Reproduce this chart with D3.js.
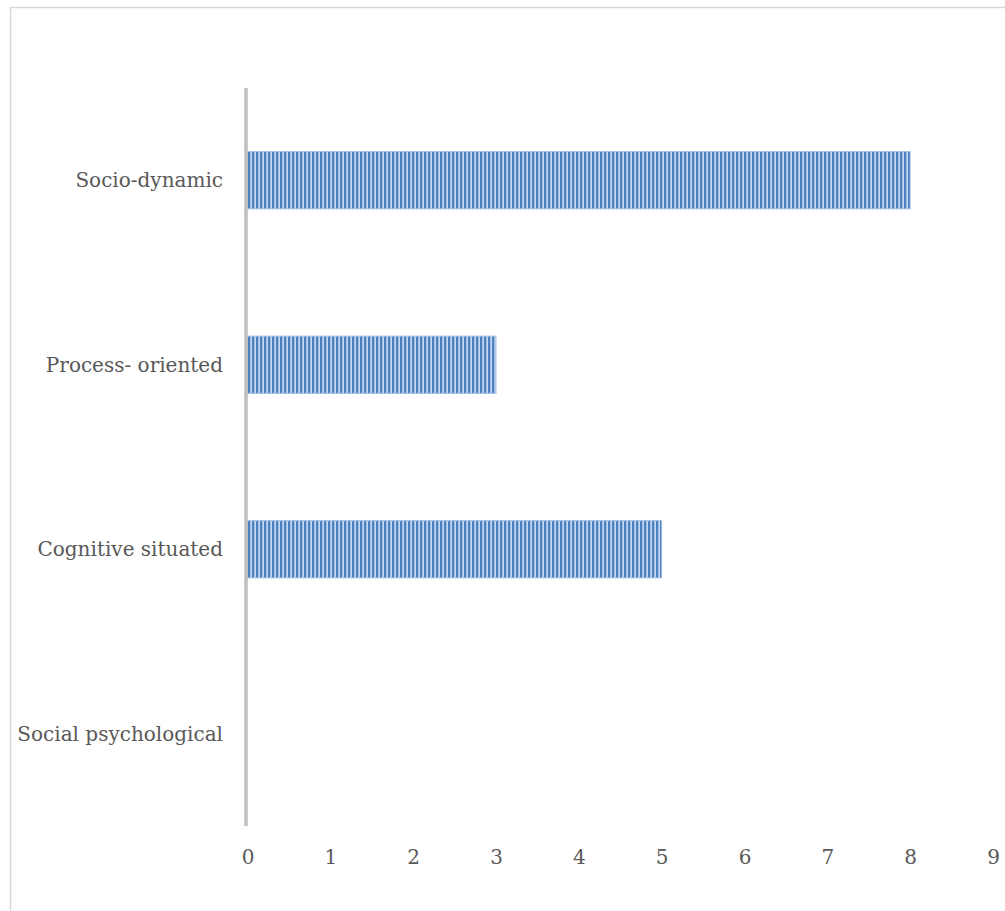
<!DOCTYPE html>
<html>
<head>
<meta charset="utf-8">
<script src="https://cdn.jsdelivr.net/npm/d3@7"></script>
<style>
  html, body { margin: 0; padding: 0; background: #fff; }
  svg { display: block; }
</style>
</head>
<body>
<svg id="chart" width="1005" height="911"></svg>
<script>
// Approaches and how many studies use each
const categories = ["Socio-dynamic", "Process- oriented", "Cognitive situated", "Social psychological"];
const counts = [8, 3, 5, 0];
const xTicks = [0, 1, 2, 3, 4, 5, 6, 7, 8, 9];

const svg = d3.select("#chart");
const font = "'DejaVu Serif', 'Liberation Serif', serif";

// Outer chart frame
svg.append("rect")
  .attr("x", 10.5).attr("y", 7.5)
  .attr("width", 1010).attr("height", 920)
  .attr("fill", "#fff")
  .attr("stroke", "#d9d9d9").attr("stroke-width", 1.5);

// Vertical stripe fill for bars
const defs = svg.append("defs");
const pat = defs.append("pattern")
  .attr("id", "stripes")
  .attr("patternUnits", "userSpaceOnUse")
  .attr("width", 4).attr("height", 10);
pat.append("rect").attr("width", 4).attr("height", 10).attr("fill", "#c8d9f0");
pat.append("rect").attr("width", 2.3).attr("height", 10).attr("fill", "#4b80c2");

const x = d3.scaleLinear().domain([0, 9]).range([247.5, 993]);
const y = d3.scaleBand().domain(categories).range([88, 826]).paddingInner(0.69).paddingOuter(0.345);

// Bars
svg.append("g").selectAll("rect")
  .data(categories)
  .join("rect")
  .attr("x", x(0))
  .attr("y", d => y(d))
  .attr("width", (d, i) => x(counts[i]) - x(0))
  .attr("height", y.bandwidth())
  .attr("fill", "url(#stripes)")
  .attr("stroke", "#a3bde3")
  .attr("stroke-width", 1);

// Category axis line
svg.append("line")
  .attr("x1", 246).attr("x2", 246)
  .attr("y1", 88).attr("y2", 826)
  .attr("stroke", "#bfbfbf").attr("stroke-width", 3.5);

// Category labels
svg.append("g").selectAll("text")
  .data(categories)
  .join("text")
  .attr("x", 223)
  .attr("y", d => y(d) + y.bandwidth() / 2)
  .attr("dy", "0.35em")
  .attr("text-anchor", "end")
  .attr("font-family", font)
  .attr("font-size", 20)
  .attr("fill", "#595959")
  .text(d => d);

// Value axis labels
const xAxis = d3.axisBottom(x).tickValues(xTicks).tickSize(0).tickPadding(0);
const gx = svg.append("g").attr("transform", "translate(0,850)").call(xAxis);
gx.select(".domain").remove();
gx.selectAll("text")
  .attr("font-family", font)
  .attr("font-size", 20)
  .attr("fill", "#595959");
</script>
</body>
</html>
